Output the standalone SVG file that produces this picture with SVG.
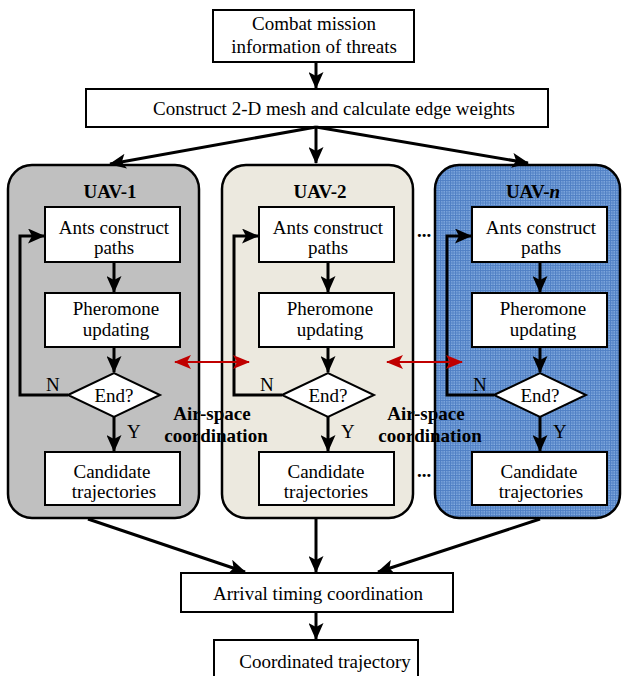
<svg xmlns="http://www.w3.org/2000/svg" width="623" height="676" viewBox="0 0 623 676">
  <defs>
    <marker id="ah" markerUnits="userSpaceOnUse" markerWidth="17" markerHeight="15" refX="16" refY="7.5" orient="auto">
      <path d="M0,0 L17,7.5 L0,15 L4,7.5 z" fill="#000"/>
    </marker>
    <marker id="rh" markerUnits="userSpaceOnUse" markerWidth="17" markerHeight="14" refX="16" refY="7" orient="auto-start-reverse">
      <path d="M0,0 L17,7 L0,14 L4,7 z" fill="#c00000"/>
    </marker>
    <pattern id="grid" width="2.5" height="2.5" patternUnits="userSpaceOnUse">
      <rect width="2.5" height="2.5" fill="#86aee0"/>
      <path d="M0,0.5 H2.5 M0.5,0 V2.5" stroke="#4f7fc4" stroke-width="1"/>
    </pattern>
  </defs>
  <style>
    .box { fill: #fff; stroke: #000; stroke-width: 2; }
    .panel { stroke: #000; stroke-width: 2.5; }
    .t { font-family: "Liberation Serif", "Times New Roman", serif; font-size: 19px; fill: #000; text-anchor: middle; }
    .b { font-family: "Liberation Serif", "Times New Roman", serif; font-size: 19px; font-weight: bold; fill: #000; text-anchor: middle; }
    .edge { fill: none; stroke: #000; stroke-width: 3; marker-end: url(#ah); }
    .loop { fill: none; stroke: #000; stroke-width: 3; marker-end: url(#ah); }
    .red { fill: none; stroke: #c00000; stroke-width: 2; marker-start: url(#rh); marker-end: url(#rh); }
  </style>

  <!-- UAV panels -->
  <g id="uav1">
    <rect class="panel" x="8" y="165" width="191" height="353" rx="24" fill="#c0c0c0"/>
    <text class="b" x="110" y="198">UAV-1</text>
  </g>
  <g id="uav2">
    <rect class="panel" x="222" y="165" width="191" height="353" rx="24" fill="#ece9df"/>
    <text class="b" x="320" y="198">UAV-2</text>
  </g>
  <g id="uavn">
    <rect class="panel" x="435" y="165" width="185" height="353" rx="24" fill="url(#grid)"/>
    <text class="b" x="533" y="198">UAV-<tspan font-style="italic">n</tspan></text>
  </g>

  <!-- top nodes -->
  <g id="mission">
    <rect class="box" x="213" y="10" width="201" height="52"/>
    <text class="t" x="314" y="30">Combat mission</text>
    <text class="t" x="314" y="53">information of threats</text>
  </g>
  <g id="mesh">
    <rect class="box" x="86" y="89" width="462" height="38"/>
    <text class="t" x="334" y="115">Construct 2-D mesh and calculate edge weights</text>
  </g>

  <!-- column 1 -->
  <g id="ants1"><rect class="box" x="45" y="207" width="135" height="55"/>
    <text class="t" x="114" y="234">Ants construct</text><text class="t" x="114" y="254">paths</text></g>
  <g id="phero1"><rect class="box" x="45" y="293" width="135" height="54"/>
    <text class="t" x="116" y="315">Pheromone</text><text class="t" x="116" y="336">updating</text></g>
  <g id="end1"><polygon class="box" points="68,395 114,373 160,395 114,417"/>
    <text class="t" x="114" y="402">End?</text></g>
  <g id="cand1"><rect class="box" x="45" y="452" width="135" height="53"/>
    <text class="t" x="112" y="478">Candidate</text><text class="t" x="114" y="498">trajectories</text></g>

  <!-- column 2 -->
  <g id="ants2"><rect class="box" x="259" y="207" width="135" height="55"/>
    <text class="t" x="328" y="234">Ants construct</text><text class="t" x="328" y="254">paths</text></g>
  <g id="phero2"><rect class="box" x="259" y="293" width="135" height="54"/>
    <text class="t" x="330" y="315">Pheromone</text><text class="t" x="330" y="336">updating</text></g>
  <g id="end2"><polygon class="box" points="282,395 328,373 374,395 328,417"/>
    <text class="t" x="328" y="402">End?</text></g>
  <g id="cand2"><rect class="box" x="259" y="452" width="135" height="53"/>
    <text class="t" x="326" y="478">Candidate</text><text class="t" x="326" y="498">trajectories</text></g>

  <!-- column n -->
  <g id="antsn"><rect class="box" x="472" y="207" width="135" height="55"/>
    <text class="t" x="541" y="234">Ants construct</text><text class="t" x="541" y="254">paths</text></g>
  <g id="phero_n"><rect class="box" x="472" y="293" width="135" height="54"/>
    <text class="t" x="543" y="315">Pheromone</text><text class="t" x="543" y="336">updating</text></g>
  <g id="endn"><polygon class="box" points="494,395 540,373 586,395 540,417"/>
    <text class="t" x="540" y="402">End?</text></g>
  <g id="candn"><rect class="box" x="472" y="452" width="135" height="53"/>
    <text class="t" x="539" y="478">Candidate</text><text class="t" x="541" y="498">trajectories</text></g>

  <!-- bottom nodes -->
  <g id="arrival">
    <rect class="box" x="181" y="573" width="272" height="39" stroke-width="3"/>
    <text class="t" x="318" y="600">Arrival timing coordination</text>
  </g>
  <g id="result">
    <rect class="box" x="214" y="640" width="204" height="40" stroke-width="3"/>
    <text class="t" x="325" y="668">Coordinated trajectory</text>
  </g>

  <!-- coordination labels -->
  <g id="airspace1">
    <text class="b" x="212" y="420">Air-space</text>
    <text class="b" x="216" y="442">coordination</text>
  </g>
  <g id="airspace2">
    <text class="b" x="426" y="420">Air-space</text>
    <text class="b" x="430" y="442">coordination</text>
  </g>
  <g id="dots">
    <text class="b" x="424" y="237">...</text>
    <text class="b" x="424" y="477">...</text>
  </g>

  <!-- connectors -->
  <g id="connectors">
    <path class="edge" d="M316,62 V88"/>
    <path class="edge" d="M316,127 L110,164"/>
    <path class="edge" d="M316,127 V163"/>
    <path class="edge" d="M316,127 L528,163"/>

    <path class="edge" d="M114,262 V292"/>
    <path class="edge" d="M114,347 V372"/>
    <path class="edge" d="M114,417 V451"/>
    <path class="loop" d="M68,395 H20 V236 H44"/>

    <path class="edge" d="M328,262 V292"/>
    <path class="edge" d="M328,347 V372"/>
    <path class="edge" d="M328,417 V451"/>
    <path class="loop" d="M282,395 H234 V236 H258"/>

    <path class="edge" d="M540,262 V292"/>
    <path class="edge" d="M540,347 V372"/>
    <path class="edge" d="M540,417 V451"/>
    <path class="loop" d="M494,395 H447 V236 H471"/>

    <path class="edge" d="M88,519 L245,572"/>
    <path class="edge" d="M316,519 V572"/>
    <path class="edge" d="M540,519 L378,572"/>
    <path class="edge" d="M316,612 V639"/>

    <path class="red" d="M175,362 H249"/>
    <path class="red" d="M387,362 H462"/>
  </g>

  <!-- branch labels -->
  <g id="labels" font-family="Liberation Serif, Times New Roman, serif" font-size="19">
    <text x="46" y="391">N</text><text x="127" y="438">Y</text>
    <text x="260" y="391">N</text><text x="341" y="438">Y</text>
    <text x="473" y="391">N</text><text x="553" y="438">Y</text>
  </g>
</svg>
